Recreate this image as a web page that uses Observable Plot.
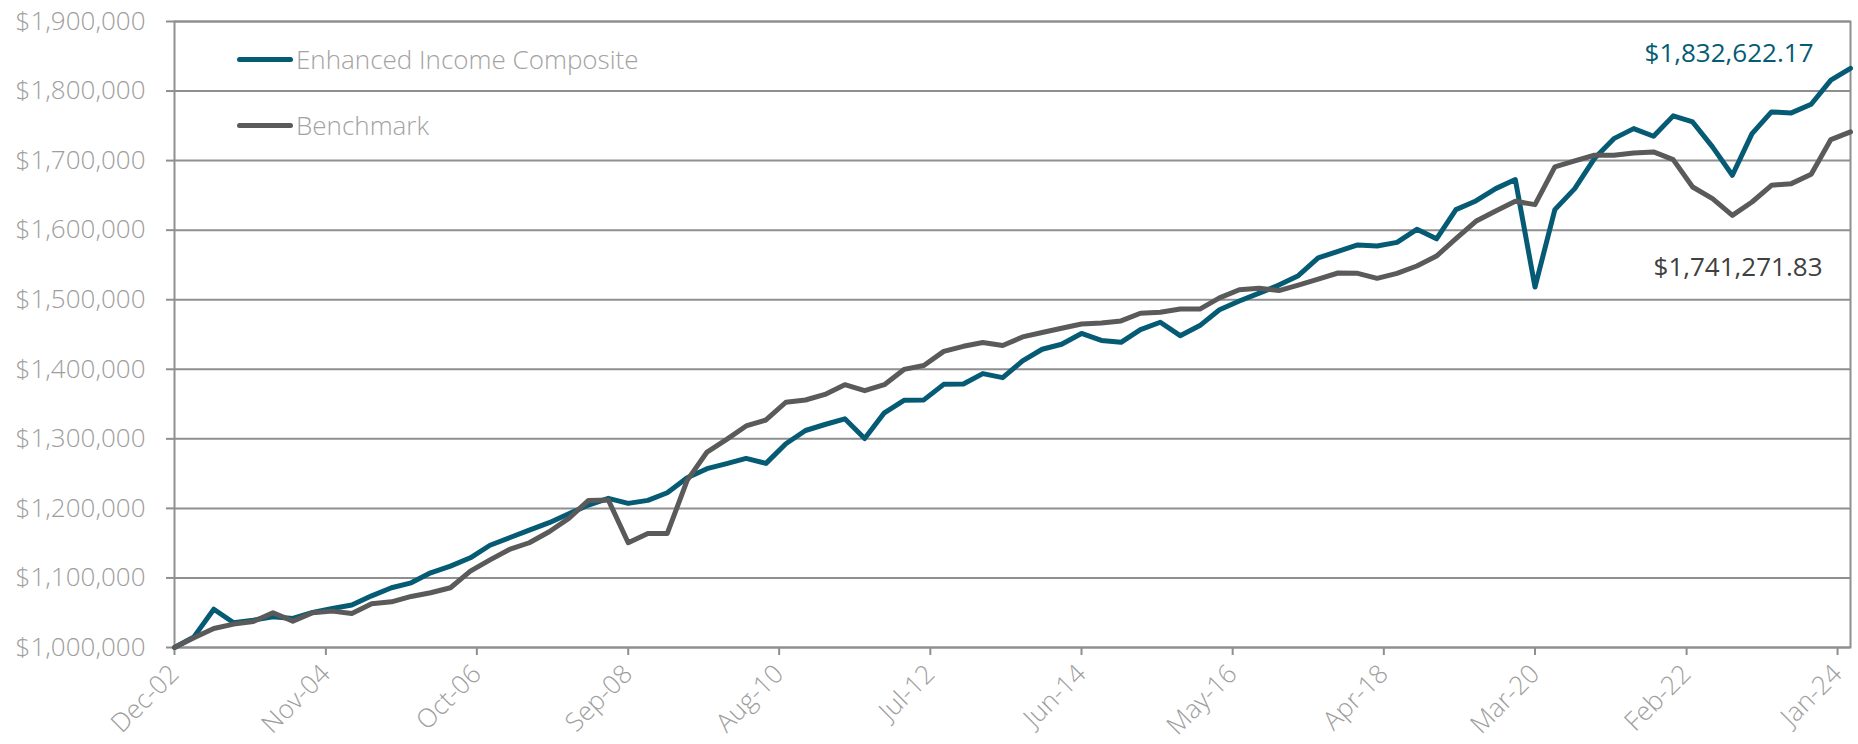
<!DOCTYPE html>
<html>
<head>
<meta charset="utf-8">
<script src="https://cdn.jsdelivr.net/npm/d3@7"></script>
<script src="https://cdn.jsdelivr.net/npm/@observablehq/plot@0.6"></script>
<style>
  html, body { margin: 0; padding: 0; background: #fff; }
  #wrap { position: relative; width: 1858px; height: 744px; font-family: "Open Sans", sans-serif; }
  #legend { position: absolute; left: 237px; top: 38px; }
  .item { display: flex; align-items: center; height: 42px; margin-bottom: 24px; font-size: 26px; font-weight: 300; color: #a3a3a3; }
  .sw { width: 56px; height: 5px; border-radius: 3px; margin-right: 3px; }
</style>
</head>
<body>
<div id="wrap"><div id="legend"></div></div>
<script>
// ---- data ----
const seriesNames = ["Enhanced Income Composite", "Benchmark"];
const seriesColors = ["#055b74", "#5a5a5a"];
const startYear = 2002, startMonth = 11; // Dec-02, quarterly observations
const composite = [
  1000000, 1015300, 1055000, 1035500, 1039300, 1044100, 1041700, 1050400, 1056100, 1061000,
  1074300, 1085900, 1093000, 1107400, 1117000, 1129000, 1147000, 1157800, 1168800, 1179400,
  1192300, 1204800, 1214400, 1207200, 1211500, 1222500, 1244100, 1257100, 1264300, 1271900,
  1264700, 1293000, 1312000, 1320600, 1328800, 1300500, 1337400, 1355300, 1356000, 1378300,
  1378800, 1393800, 1388000, 1412000, 1428800, 1436000, 1451500, 1441500, 1438700, 1457000,
  1467600, 1448300, 1462800, 1485500, 1498100, 1509400, 1521000, 1534500, 1560000, 1569500,
  1578700, 1577200, 1582500, 1601200, 1587500, 1629500, 1642000, 1659700, 1672700, 1518200,
  1629500, 1659700, 1702900, 1731600, 1746000, 1735000, 1764300, 1755600, 1719700, 1678900,
  1738800, 1770000, 1768600, 1781000, 1815600, 1832622.17
];
const benchmark = [
  1000000, 1013900, 1027300, 1033600, 1037400, 1049900, 1037900, 1049900, 1052300, 1048900,
  1062800, 1065700, 1073400, 1078700, 1085900, 1109800, 1126000, 1141000, 1150600, 1166400,
  1185600, 1211500, 1212000, 1150600, 1164000, 1164000, 1240300, 1281000, 1299300, 1318500,
  1327100, 1352600, 1355800, 1363900, 1377800, 1369200, 1377800, 1399800, 1405400, 1425700,
  1433000, 1438400, 1434100, 1446500, 1452800, 1459000, 1465000, 1466400, 1469500, 1480500,
  1482000, 1486700, 1486500, 1502600, 1514400, 1516600, 1513200, 1521100, 1529700, 1538400,
  1537900, 1530700, 1537900, 1548500, 1562800, 1587800, 1612700, 1627600, 1641500, 1636700,
  1690900, 1699500, 1707700, 1707700, 1711000, 1712500, 1701400, 1662100, 1645300, 1621300,
  1640500, 1664500, 1666900, 1680300, 1730200, 1741271.83
];
const xTickLabels = ["Dec-02","Nov-04","Oct-06","Sep-08","Aug-10","Jul-12","Jun-14","May-16","Apr-18","Mar-20","Feb-22","Jan-24"];
const yTicks = [1000000,1100000,1200000,1300000,1400000,1500000,1600000,1700000,1800000,1900000];
const endLabels = ["$1,832,622.17", "$1,741,271.83"];

// ---- build ----
const parseLbl = d3.utcParse("%b-%y");
const xTicks = xTickLabels.map(parseLbl);
const qDate = i => new Date(Date.UTC(startYear, startMonth + 3 * i, 1));
const rows = [];
[composite, benchmark].forEach((vals, s) => vals.forEach((v, i) => rows.push({series: seriesNames[s], date: qDate(i), value: v})));
const lastDate = qDate(composite.length - 1);
const gridColor = "#8f8f8f";
const axisText = "#9e9e9e";

const chart = Plot.plot({
  width: 1858, height: 744,
  marginLeft: 174, marginRight: 8, marginTop: 21, marginBottom: 97,
  style: {fontFamily: "'Open Sans', sans-serif", background: "#fff", overflow: "visible"},
  x: {type: "utc", domain: [qDate(0), lastDate]},
  y: {domain: [1000000, 1900000]},
  color: {domain: seriesNames, range: seriesColors},
  marks: [
    Plot.gridY(yTicks, {stroke: gridColor, strokeOpacity: 1, strokeWidth: 2}),
    Plot.frame({stroke: gridColor, strokeWidth: 2}),
    Plot.axisY({ticks: yTicks, tickFormat: d3.format("$,"), tickSize: 8, tickPadding: 21,
      stroke: gridColor, strokeWidth: 2, fill: axisText, fontSize: 26, fontWeight: 300, label: null}),
    Plot.axisX({ticks: xTicks, tickFormat: d3.utcFormat("%b-%y"), tickSize: 8, tickPadding: 14, tickRotate: -45, dx: 0,
      stroke: gridColor, strokeWidth: 2, fill: axisText, fontSize: 26, fontWeight: 300, label: null}),
    Plot.lineY(rows, {x: "date", y: "value", stroke: "series", strokeWidth: 5, strokeLinejoin: "round", strokeLinecap: "round"}),
    Plot.text([{date: lastDate, value: composite[composite.length - 1]}], {x: "date", y: "value",
      text: () => endLabels[0], textAnchor: "end", dx: -37, dy: -15, fill: seriesColors[0], fontSize: 26}),
    Plot.text([{date: lastDate, value: benchmark[benchmark.length - 1]}], {x: "date", y: "value",
      text: () => endLabels[1], textAnchor: "end", dx: -28, dy: 136, fill: "#404040", fontSize: 26})
  ]
});
document.getElementById("wrap").prepend(chart);

const legend = document.getElementById("legend");
seriesNames.forEach((n, i) => {
  const it = document.createElement("div");
  it.className = "item";
  it.innerHTML = `<div class="sw" style="background:${seriesColors[i]}"></div><span>${n}</span>`;
  legend.appendChild(it);
});
</script>
</body>
</html>
